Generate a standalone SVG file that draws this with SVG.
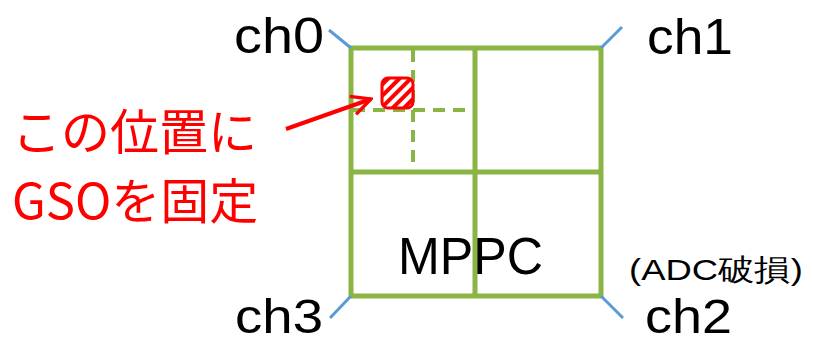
<svg xmlns="http://www.w3.org/2000/svg" width="813" height="342" viewBox="0 0 813 342">
<style>
.g{stroke:#8AB443;stroke-width:5;fill:none}
.gd{stroke:#8AB443;stroke-width:4;fill:none;stroke-dasharray:12,8}
.b{stroke:#5B9BD5;stroke-width:3}
.t{font-family:"Liberation Sans","Noto Sans",sans-serif;fill:#000}
.r{font-family:"Noto Sans CJK JP","Noto Sans",sans-serif;fill:#FF0000}
</style>
<defs>
<pattern id="hatch" width="8" height="8" patternUnits="userSpaceOnUse" patternTransform="rotate(45)">
<rect width="8" height="8" fill="#fff"/>
<rect width="4" height="8" fill="#FF0000"/>
</pattern>
<marker id="arr" viewBox="0 0 10 10" refX="9" refY="5" markerWidth="6" markerHeight="6" orient="auto" markerUnits="strokeWidth">
<path d="M1,1 L9,5 L1,9" fill="none" stroke="#FF0000" stroke-width="1.4"/>
</marker>
</defs>
<g id="mppc">
<rect class="g" x="351" y="48" width="250" height="248"/>
<line class="g" x1="475" y1="48" x2="475" y2="296"/>
<line class="g" x1="351" y1="172" x2="601" y2="172"/>
<line class="gd" x1="413" y1="50" x2="413" y2="170"/>
<line class="gd" x1="353" y1="110" x2="473" y2="110"/>
<text class="t" x="398" y="274" font-size="52" textLength="145" lengthAdjust="spacingAndGlyphs">MPPC</text>
</g>
<g id="gso">
<rect x="382" y="78" width="31" height="30" rx="6" fill="url(#hatch)" stroke="#FF0000" stroke-width="3"/>
</g>
<g id="connectors">
<line class="b" x1="329" y1="30" x2="351" y2="48"/>
<line class="b" x1="601" y1="48" x2="622" y2="27"/>
<line class="b" x1="351" y1="296" x2="330" y2="318"/>
<line class="b" x1="601" y1="296" x2="623" y2="318"/>
<line x1="286" y1="129" x2="371" y2="99" stroke="#FF0000" stroke-width="4" marker-end="url(#arr)"/>
</g>
<g id="ch0"><text class="t" x="234" y="53" font-size="50" textLength="90" lengthAdjust="spacingAndGlyphs">ch0</text></g>
<g id="ch1"><text class="t" x="647" y="54" font-size="50" textLength="86" lengthAdjust="spacingAndGlyphs">ch1</text></g>
<g id="ch3"><text class="t" x="235" y="333" font-size="48" textLength="88" lengthAdjust="spacingAndGlyphs">ch3</text></g>
<g id="ch2"><text class="t" x="645" y="333" font-size="48" textLength="87" lengthAdjust="spacingAndGlyphs">ch2</text></g>
<g id="adc"><text class="t" x="629" y="280" font-size="30" textLength="174" lengthAdjust="spacingAndGlyphs">(ADC破損)</text></g>
<g id="label">
<text class="r" x="12" y="150" font-size="49">この位置に</text>
<text class="r" x="12" y="219" font-size="49">GSOを固定</text>
</g>
</svg>
